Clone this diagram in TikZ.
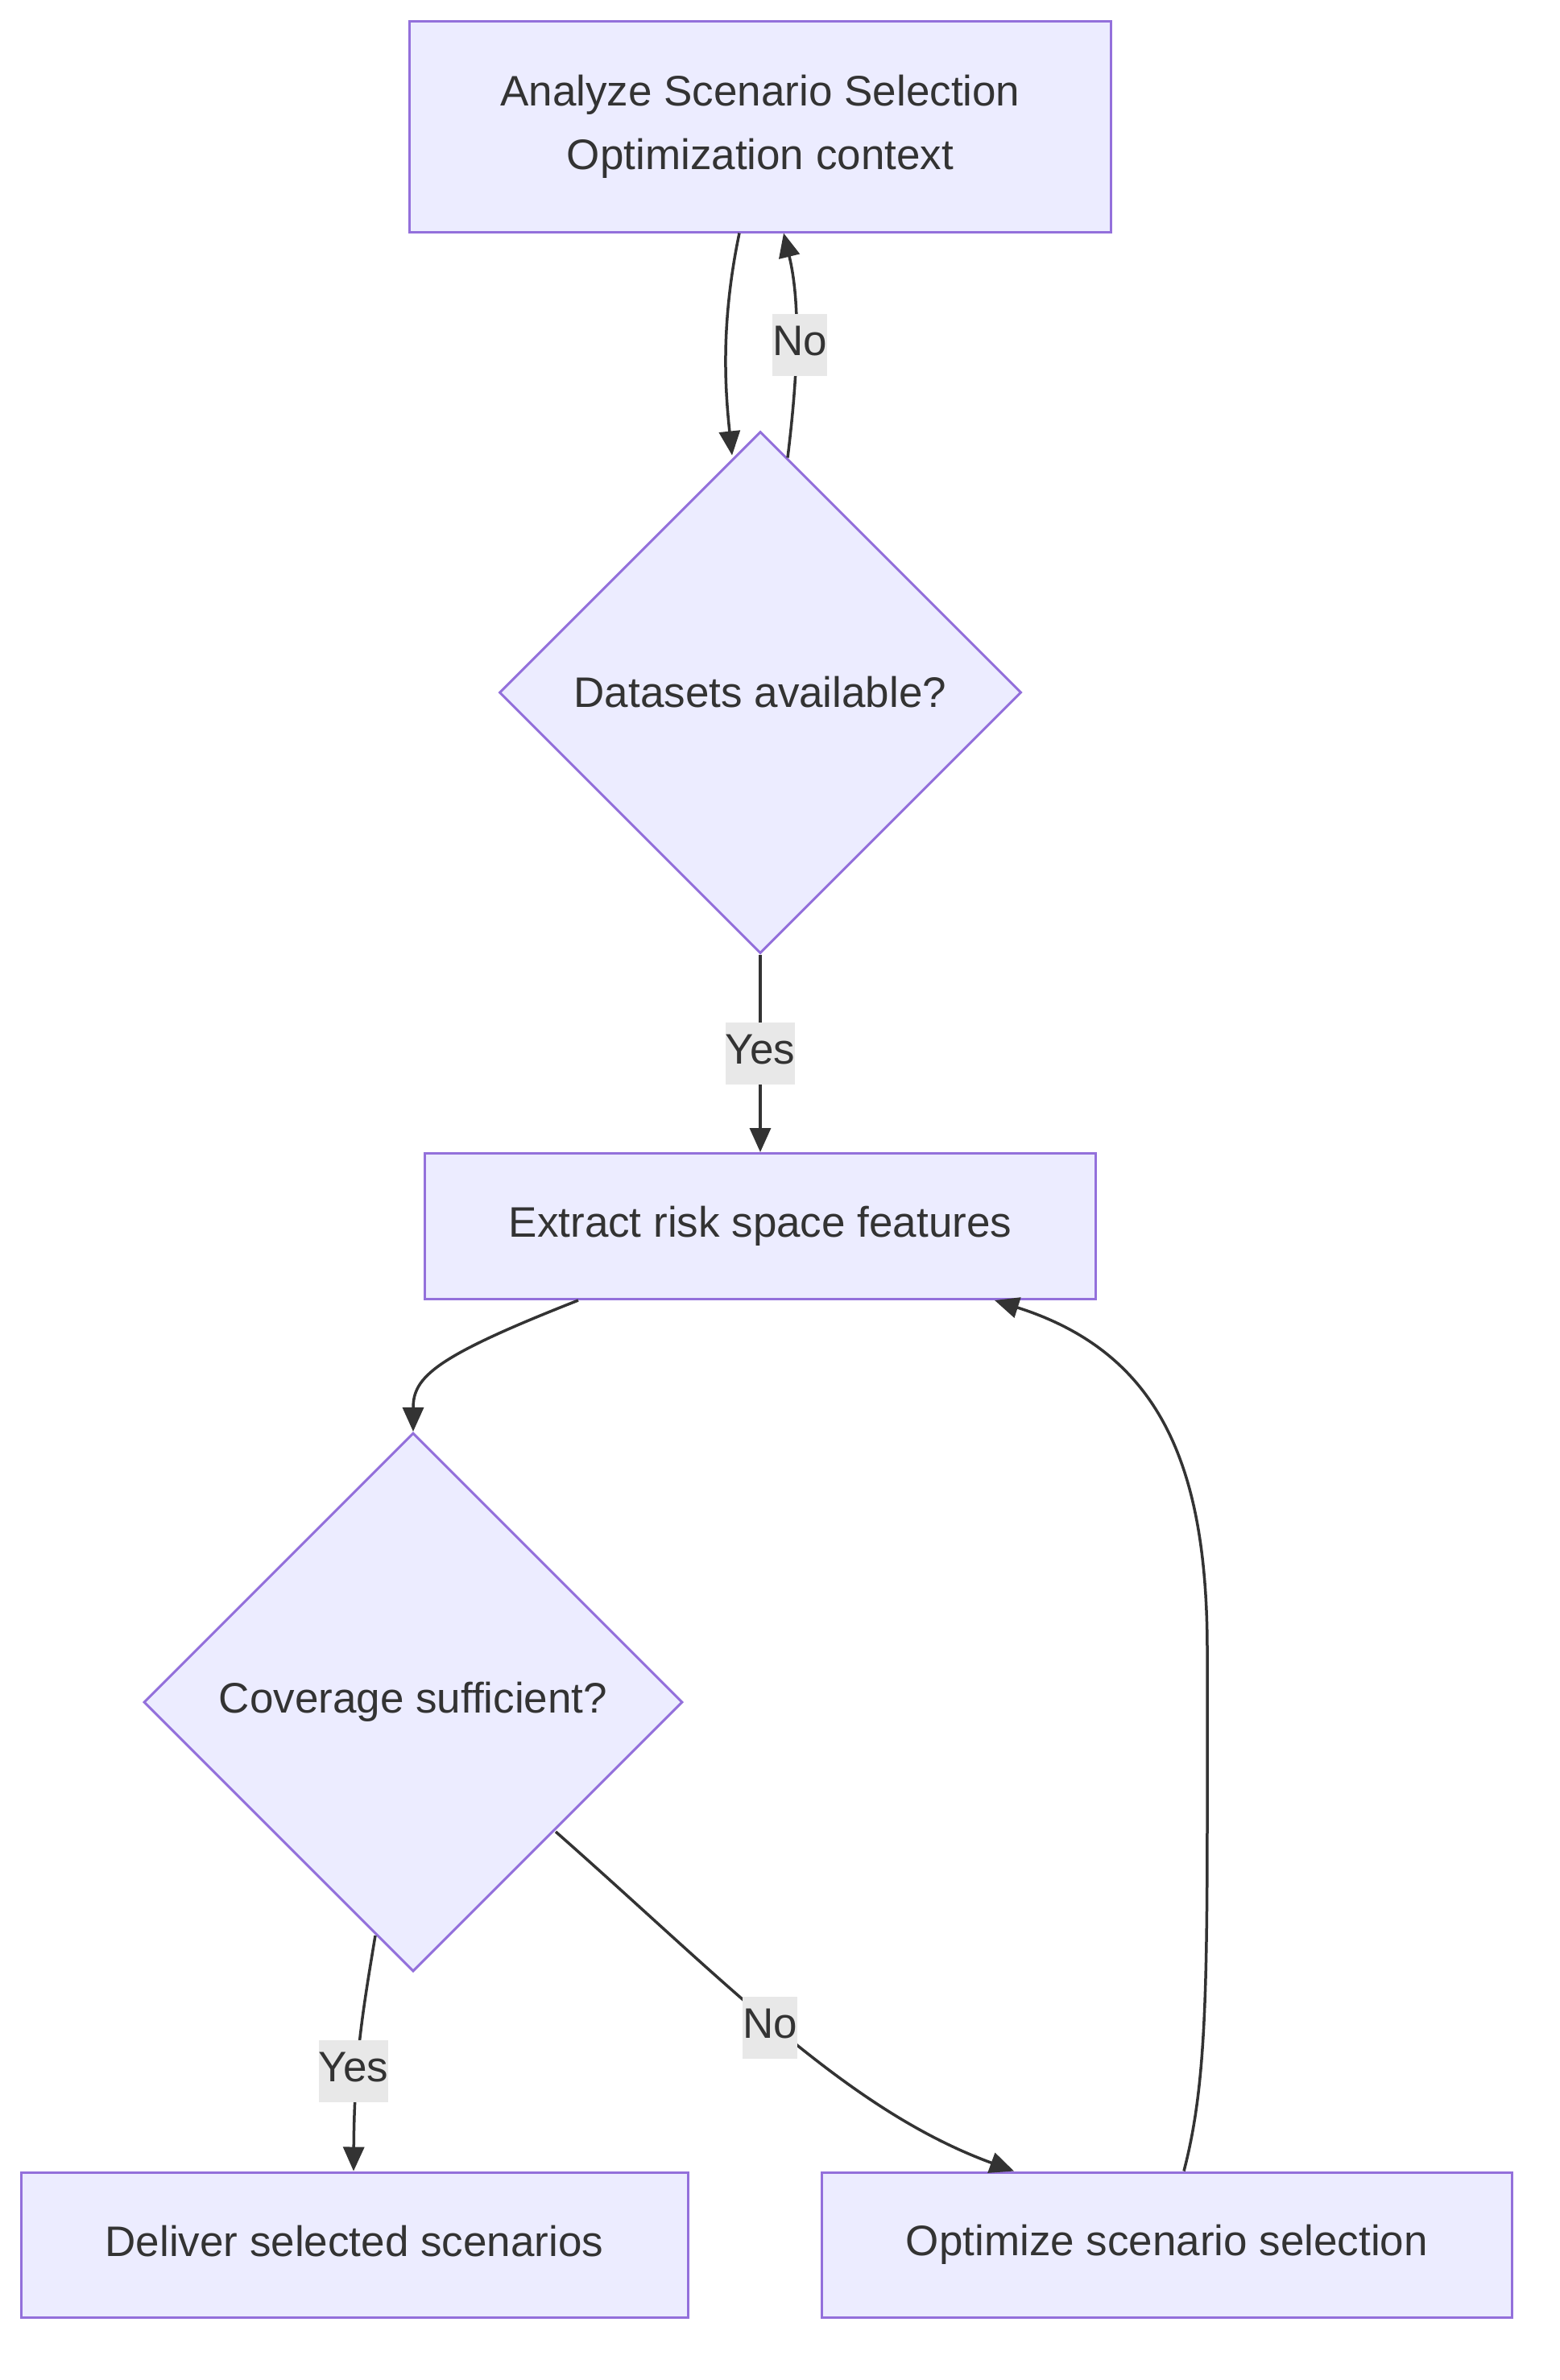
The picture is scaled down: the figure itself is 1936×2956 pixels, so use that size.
\documentclass[tikz,border=0pt]{standalone}
\usepackage{fontspec}
\setmainfont{Liberation Sans}
\usetikzlibrary{shapes.geometric,arrows.meta}
\definecolor{nodefill}{HTML}{ECECFF}
\definecolor{nodeline}{HTML}{9370DB}
\definecolor{ink}{HTML}{333333}
\definecolor{lblbg}{HTML}{E8E8E8}
\begin{document}
\begin{tikzpicture}[x=1pt,y=-1pt,
 box/.style={draw=nodeline,fill=nodefill,line width=3pt,inner sep=0pt,text=ink,font=\fontsize{53}{79}\selectfont,align=center},
 dia/.style={diamond,draw=nodeline,fill=nodefill,line width=3pt,inner sep=0pt,text=ink,font=\fontsize{53}{79}\selectfont,aspect=1},
 flow/.style={draw=ink,line width=3.5pt,-{Triangle[length=30pt,width=26pt]}},
 lbl/.style={fill=lblbg,text=ink,font=\fontsize{53}{66}\selectfont,inner xsep=0pt,inner ysep=13pt,text height=39pt,text depth=12pt}
]
\useasboundingbox (0,0) rectangle (1936,2956);
\fill[white] (0,0) rectangle (1936,2956);
\node[box,minimum width=871pt,minimum height=262pt] (top) at (944,157) {Analyze Scenario Selection\\Optimization context};
\node[dia,minimum width=648pt,minimum height=648pt] (d1) at (944,860) {Datasets available?};
\node[box,minimum width=833pt,minimum height=181pt] (ext) at (944,1523) {Extract risk space features};
\node[dia,minimum width=669pt,minimum height=669pt] (d2) at (513,2114) {Coverage sufficient?};
\node[box,minimum width=828pt,minimum height=180pt,text height=39pt,text depth=11pt] (del) at (440,2788) {Deliver selected scenarios};
\node[box,minimum width=857pt,minimum height=180pt] (opt) at (1449,2788) {Optimize scenario selection};

\draw[flow] ([xshift=-26pt]top.south) .. controls (895,400) and (900,480) .. ([xshift=-35pt,yshift=-31pt]d1.north);
\draw[flow] ([xshift=34pt,yshift=-34pt]d1.north) .. controls (990,470) and (995,380) .. ([xshift=29pt]top.south);
\draw[flow] (d1.south) -- (ext.north);
\draw[flow] ([xshift=-226pt]ext.south) .. controls (540,1685) and (513,1710) .. (d2.north);
\draw[flow] ([xshift=-47pt,yshift=46pt]d2.south) .. controls (450,2500) and (440,2560) .. ([xshift=-1pt]del.north);
\draw[flow] ([xshift=177pt,yshift=-161pt]d2.center) .. controls (900,2460) and (1050,2620) .. ([xshift=-190pt]opt.north);
\draw[flow] ([xshift=21pt]opt.north) .. controls (1495,2600) and (1499,2500) .. (1499,2250) -- (1499,2050) .. controls (1499,1820) and (1440,1680) .. ([xshift=291pt]ext.south);

\node[lbl] (l1) at (993,428) {No};
\node[lbl] (l2) at (944,1308) {Yes};
\node[lbl] (l3) at (439,2572) {Yes};
\node[lbl] (l4) at (956,2518) {No};
\end{tikzpicture}
\end{document}
